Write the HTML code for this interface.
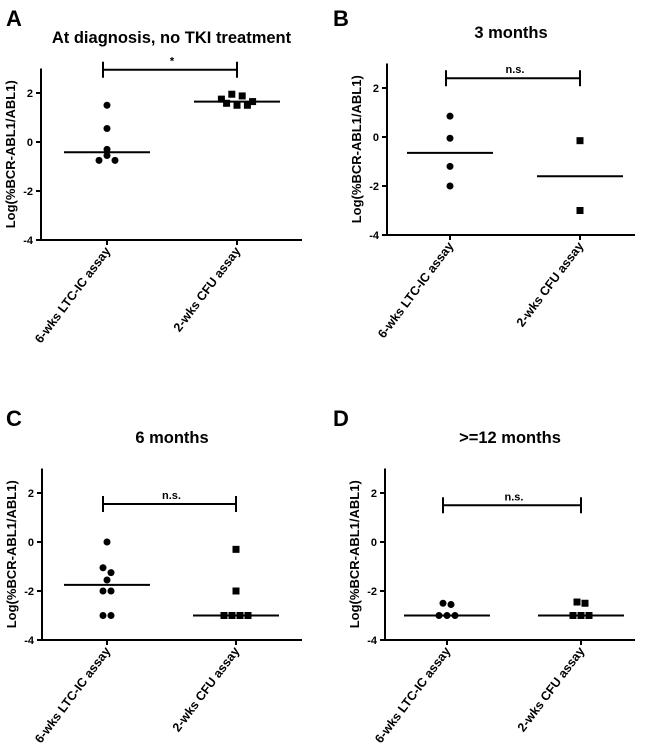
<!DOCTYPE html>
<html><head><meta charset="utf-8"><style>
body{margin:0;background:#fff}
svg text{font-family:"Liberation Sans",Arial,sans-serif;font-weight:bold;fill:#000}
</style></head><body>
<svg id="fig" width="650" height="746" xmlns="http://www.w3.org/2000/svg"></svg>
<script>
const panelLetters=["A","B","C","D"];
const panelTitles=["At diagnosis, no  TKI treatment","3 months","6 months",">=12 months"];
const categories=["6-wks LTC-IC assay","2-wks CFU assay"];
const yTicks=[2,0,-2,-4];
const sigLabels=["*","n.s.","n.s.","n.s."];
const ltcValues=[[1.5,0.55,-0.3,-0.55,-0.75,-0.75],[0.85,-0.05,-1.2,-2.0],[0,-1.05,-1.25,-1.55,-2,-2,-3,-3],[-2.5,-2.55,-3,-3,-3]];
const cfuValues=[[1.75,1.58,1.95,1.5,1.88,1.5,1.65],[-0.15,-3.0],[-0.3,-2,-3,-3,-3,-3],[-2.45,-2.5,-3,-3,-3]];
const ltcMedians=[-0.42,-0.65,-1.75,-3];
const cfuMedians=[1.65,-1.6,-3,-3];
const sigY=[2.95,2.4,1.55,1.5];

const NS="http://www.w3.org/2000/svg";
const svg=document.getElementById('fig');
function mk(tag,attrs,parent){const e=document.createElementNS(NS,tag);for(const k in attrs)e.setAttribute(k,attrs[k]);(parent||svg).appendChild(e);return e;}
const layouts=[{ox:0,oy:0,ax:41,y0:142,cx:[107,237],xe:302},{ox:325,oy:0,ax:62,y0:137,cx:[125,255],xe:310},{ox:0,oy:400,ax:42,y0:142,cx:[107,236],xe:302},{ox:325,oy:400,ax:60,y0:142,cx:[122,256],xe:310}];
const S=24.5;
for(let p=0;p<4;p++){
  const L=layouts[p];
  const g=mk('g',{transform:`translate(${L.ox},${L.oy})`});
  
  
  const yS=v=>L.y0-v*S;
  let t=mk('text',{x:p%2?8:6,y:26,'font-size':22},g);t.textContent=panelLetters[p];
  
  t=mk('text',{x:(L.ax+L.xe)/2,y:L.y0-99,'font-size':16.5,'text-anchor':'middle'},g);t.textContent=panelTitles[p];
  
  let a=mk('line',{x1:L.ax,y1:yS(3),x2:L.ax,y2:yS(-4),stroke:'#000','stroke-width':2},g);
  
  a=mk('line',{x1:L.ax-1,y1:yS(-4),x2:L.xe,y2:yS(-4),stroke:'#000','stroke-width':2},g);
  
  yTicks.forEach(v=>{
    mk('line',{x1:L.ax-5,y1:yS(v),x2:L.ax,y2:yS(v),stroke:'#000','stroke-width':2},g);
    const tt=mk('text',{x:L.ax-8,y:yS(v)+4,'font-size':11,'text-anchor':'end'},g);tt.textContent=v;
    
  });
  t=mk('text',{transform:`translate(${L.ax-26},${yS(-0.5)}) rotate(-90)`,'font-size':13,'text-anchor':'middle'},g);
  t.textContent='Log(%BCR-ABL1/ABL1)';
  
  categories.forEach((c,i)=>{
    const x=L.cx[i];
    mk('line',{x1:x,y1:yS(-4),x2:x,y2:yS(-4)+5,stroke:'#000','stroke-width':2},g);
    const ct=mk('text',{transform:`translate(${x+4},${yS(-4)+11}) rotate(-53)`,'font-size':12.5,'text-anchor':'end'},g);
    ct.textContent=c;
    
  });
  const by=yS(sigY[p]);
  const br=mk('path',{d:`M${L.cx[0]-4},${by-8}V${by+8}M${L.cx[0]-4},${by}H${L.cx[1]}M${L.cx[1]},${by-8}V${by+8}`,stroke:'#000','stroke-width':2,fill:'none'},g);
  
  t=mk('text',{x:(L.cx[0]+L.cx[1])/2,y:by-5,'font-size':11,'text-anchor':'middle'},g);t.textContent=sigLabels[p];
  
  function drawGroup(vals,cx,square){
    const mx=Math.max(...vals),mn=Math.min(...vals);
    let placed;
    if(vals.length>=6&&mx-mn<0.6){
      const sp=5.2;
      placed=vals.map((v,i)=>({v,x:cx+(i-(vals.length-1)/2)*sp}));
    }else{
      const sorted=[...vals].sort((a,b)=>b-a);
      placed=[];
      sorted.forEach(v=>{
        const n=placed.filter(q=>Math.abs(yS(q.v)-yS(v))<6).length;
        const off=n===0?0:(n%2?1:-1)*Math.ceil(n/2)*8;
        placed.push({v,off});
      });
      placed.forEach(q=>{
        const grp=placed.filter(r=>Math.abs(yS(r.v)-yS(q.v))<6);
        const mean=grp.reduce((s,r)=>s+r.off,0)/grp.length;
        q.x=cx+q.off-mean;
      });
    }
    placed.forEach(q=>{
      let m;
      if(square)m=mk('rect',{x:q.x-3.5,y:yS(q.v)-3.5,width:7,height:7,fill:'#000'},g);
      else m=mk('circle',{cx:q.x,cy:yS(q.v),r:3.5,fill:'#000'},g);
      
      
    });
  }
  drawGroup(ltcValues[p],L.cx[0],false);
  drawGroup(cfuValues[p],L.cx[1],true);
  let m=mk('line',{x1:L.cx[0]-43,y1:yS(ltcMedians[p]),x2:L.cx[0]+43,y2:yS(ltcMedians[p]),stroke:'#000','stroke-width':2},g);
  
  m=mk('line',{x1:L.cx[1]-43,y1:yS(cfuMedians[p]),x2:L.cx[1]+43,y2:yS(cfuMedians[p]),stroke:'#000','stroke-width':2},g);
  
}
</script>
</body></html>
